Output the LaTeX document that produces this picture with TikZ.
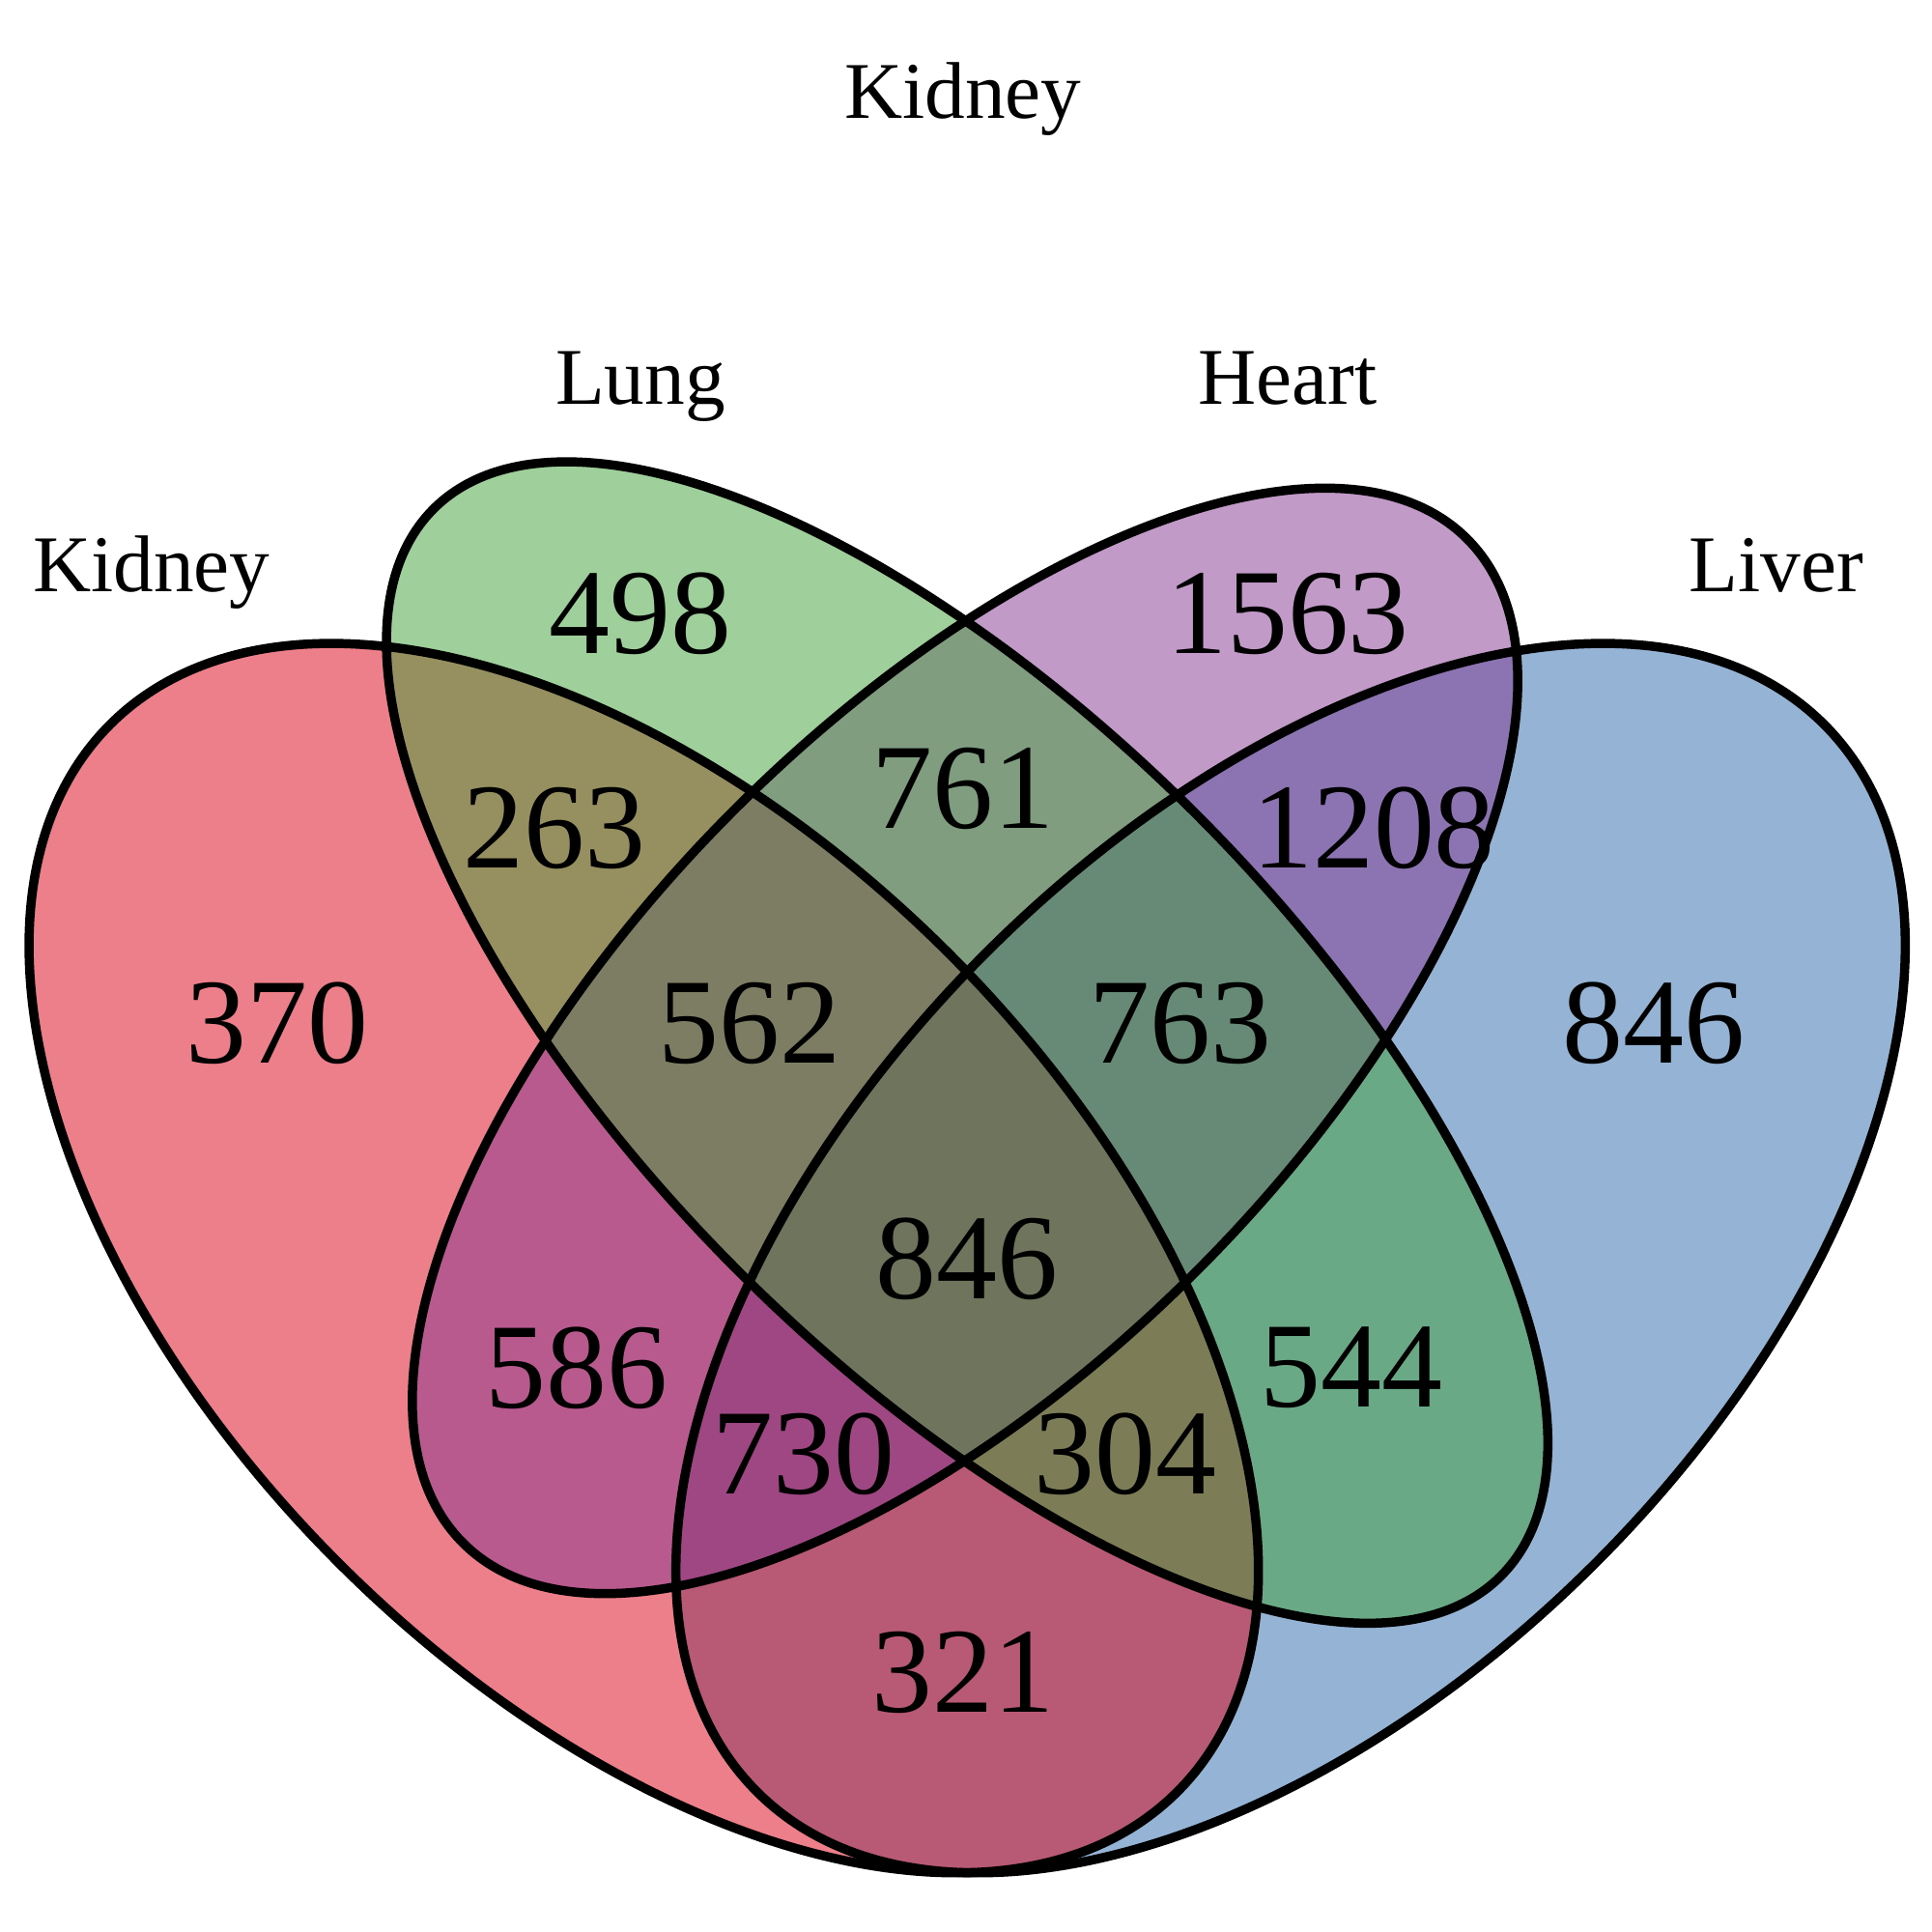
\documentclass[tikz,border=0pt]{standalone}
\usepackage{fontspec}
\setmainfont{Liberation Serif}
\definecolor{cred}{RGB}{219,1,23}
\definecolor{cgreen}{RGB}{65,161,57}
\definecolor{cpurple}{RGB}{133,55,145}
\definecolor{cblue}{RGB}{45,105,171}
\tikzset{
  setfill/.style={fill=#1, fill opacity=0.5, draw=none},
  setline/.style={draw=black, line width=2.7pt},
  num/.style={font=\fontsize{35.8}{40}\selectfont, inner sep=0pt},
  lab/.style={font=\fontsize{23.7}{28}\selectfont, inner sep=0pt, anchor=base}
}
\begin{document}
\begin{tikzpicture}
\useasboundingbox (0,0) rectangle (20,-20);
\fill[white] (0,0) rectangle (20,-20);
% centres
\coordinate (cR) at (6.664,-13.024);
\coordinate (cB) at (13.36,-13.024);
\coordinate (cG) at (10.012,-10.792);
\coordinate (cP) at (9.99,-10.775);
% fills
\fill[setfill=cblue, shift={(cB)}, rotate=45] (0,0) ellipse (7.812 and 4.464);
\fill[setfill=cred, shift={(cR)}, rotate=-45] (0,0) ellipse (7.812 and 4.464);
\fill[setfill=cpurple, shift={(cP)}, rotate=45] (0,0) ellipse (7.35 and 3.38);
\fill[setfill=cgreen, shift={(cG)}, rotate=-45] (0,0) ellipse (7.812 and 3.348);
% outlines
\draw[setline, shift={(cB)}, rotate=45] (0,0) ellipse (7.812 and 4.464);
\draw[setline, shift={(cR)}, rotate=-45] (0,0) ellipse (7.812 and 4.464);
\draw[setline, shift={(cP)}, rotate=45] (0,0) ellipse (7.35 and 3.38);
\draw[setline, shift={(cG)}, rotate=-45] (0,0) ellipse (7.812 and 3.348);
% counts
\node[num] (n370) at (2.87,-10.59) {370};
\node[num] (n498) at (6.63,-6.35) {498};
\node[num] (n1563) at (13.33,-6.35) {1563};
\node[num] (n846r) at (17.12,-10.59) {846};
\node[num] (n263) at (5.74,-8.57) {263};
\node[num] (n761) at (9.97,-8.16) {761};
\node[num] (n1208) at (14.22,-8.57) {1208};
\node[num] (n562) at (7.76,-10.59) {562};
\node[num] (n763) at (12.22,-10.59) {763};
\node[num] (n846c) at (10.01,-13.03) {846};
\node[num] (n586) at (5.97,-14.16) {586};
\node[num] (n544) at (13.99,-14.16) {544};
\node[num] (n730) at (8.32,-15.05) {730};
\node[num] (n304) at (11.65,-15.05) {304};
\node[num] (n321) at (9.97,-17.31) {321};
% labels
\node[lab] (ltop) at (9.97,-1.22) {Kidney};
\node[lab] (llung) at (6.63,-4.18) {Lung};
\node[lab] (lheart) at (13.33,-4.18) {Heart};
\node[lab] (lkid) at (1.57,-6.12) {Kidney};
\node[lab] (lliv) at (18.39,-6.12) {Liver};
\end{tikzpicture}
\end{document}
